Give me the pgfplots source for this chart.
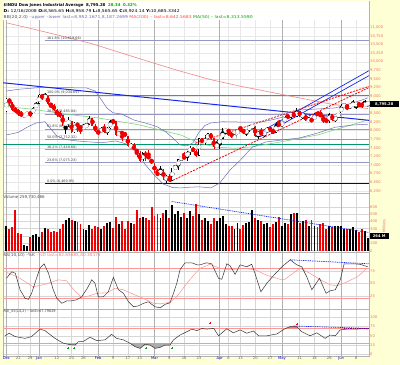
\documentclass[border=0pt]{standalone}
\usepackage{fontspec}
\setmainfont{DejaVu Sans}
\usepackage{pgfplots}
\usepackage{pgfplotstable}
\pgfplotsset{compat=1.18}

\definecolor{bgy}{RGB}{255,255,214}
\definecolor{lab}{RGB}{238,115,105}
\definecolor{ma200}{RGB}{240,135,135}
\definecolor{ma50}{RGB}{125,215,125}
\definecolor{bb}{RGB}{110,110,185}
\definecolor{fib}{RGB}{150,150,195}
\definecolor{tlblue}{RGB}{20,40,235}
\definecolor{navy}{RGB}{0,0,150}
\definecolor{teal2}{RGB}{0,150,110}
\definecolor{cred}{RGB}{240,0,0}
\definecolor{pinkD}{RGB}{255,150,150}
\definecolor{hdrgreen}{RGB}{0,170,0}

\newcommand{\fs}{\fontsize{3.7}{4.2}\selectfont}
\newcommand{\hd}{\fontsize{4}{4.4}\selectfont}

\pgfplotstableread{
i o h l c v
1 8565.65 8958.79 8540 8924.14 330
2 8924 8957 8730 8824 300
3 8824 8830 8570 8604 320
4 8604 8700 8520 8579 560
5 8579 8620 8430 8519 240
6 8519 8560 8400 8419 230
7 8419 8490 8400 8468 80
8 8468 8530 8440 8515 60
9 8515 8560 8400 8483 190
10 8483 8690 8480 8668 220
11 8668 8840 8660 8776 230
12 8776 9065 8760 9035 190
13 9035 9070 8900 8953 260
14 8953 9088 8940 9015 310
15 9015 9015 8740 8769 290
16 8769 8800 8650 8742 260
17 8742 8770 8570 8599 270
18 8599 8620 8400 8474 260
19 8474 8560 8380 8448 300
20 8448 8450 8140 8200 360
21 8200 8260 7910 8212 420
22 8212 8390 8110 8281 440
23 8281 8290 7930 7949 420
24 7949 8250 7920 8228 400
25 8228 8230 7950 8123 390
26 8123 8130 7910 8077 370
27 8077 8200 8040 8116 300
28 8116 8230 8090 8175 280
29 8175 8420 8170 8375 350
30 8375 8375 8130 8149 300
31 8149 8190 7970 8001 330
32 8001 8020 7870 7936 320
33 7936 8110 7920 8078 300
34 8078 8200 7940 7957 330
35 7957 8110 7860 8063 380
36 8063 8320 8050 8280 390
37 8280 8330 8180 8270 310
38 8270 8270 7850 7888 460
39 7888 7990 7850 7939 360
40 7939 7950 7710 7932 400
41 7932 7960 7830 7850 300
42 7850 7850 7530 7553 400
43 7553 7630 7490 7555 380
44 7555 7640 7450 7466 370
45 7466 7470 7250 7366 560
46 7366 7400 7100 7115 450
47 7115 7380 7110 7351 460
48 7351 7400 7110 7270 440
49 7270 7440 7170 7183 420
50 7183 7190 7020 7063 600
51 7063 7063 6760 6763 480
52 6763 6900 6700 6726 500
53 6726 6970 6720 6876 440
54 6876 6880 6570 6594 520
55 6594 6720 6470 6627 560
56 6627 6740 6520 6547 440
57 6547 6930 6547 6926 620
58 6926 7010 6880 6930 500
59 6930 7180 6860 7170 540
60 7170 7250 7120 7224 460
61 7224 7390 7200 7216 520
62 7216 7400 7130 7395 450
63 7395 7560 7300 7486 540
64 7486 7530 7370 7400 480
65 7400 7430 7250 7279 640
66 7279 7780 7279 7776 500
67 7776 7776 7640 7660 420
68 7660 7860 7580 7750 450
69 7750 7940 7750 7925 400
70 7925 7925 7740 7776 360
71 7776 7776 7470 7522 440
72 7522 7730 7522 7609 400
73 7609 7770 7480 7761 440
74 7761 8080 7761 7978 470
75 7978 8020 7890 8018 360
76 8018 8018 7850 7975 340
77 7975 7975 7780 7789 340
78 7789 7880 7780 7837 300
79 7837 8090 7837 8083 380
80 8083 8090 7970 8058 300
81 8058 8060 7900 7920 350
82 7920 8040 7840 8029 380
83 8029 8170 7950 8125 390
84 8125 8170 8040 8131 550
85 8131 8131 7820 7841 450
86 7841 7980 7750 7969 420
87 7969 8070 7870 7886 410
88 7886 7980 7810 7957 370
89 7957 8120 7930 8076 380
90 8076 8080 7980 8025 320
91 8025 8040 7900 7945 360
92 7945 8260 7945 8185 390
93 8185 8320 8150 8168 460
94 8168 8230 8130 8212 330
95 8212 8430 8210 8426 380
96 8426 8430 8370 8410 370
97 8410 8530 8340 8512 500
98 8512 8580 8380 8409 510
99 8409 8650 8400 8575 520
100 8575 8575 8400 8418 380
101 8418 8510 8350 8469 400
102 8469 8470 8270 8284 420
103 8284 8390 8270 8331 340
104 8331 8380 8250 8268 420
105 8268 8520 8268 8504 330
106 8504 8540 8440 8474 320
107 8474 8580 8400 8422 370
108 8422 8422 8210 8293 380
109 8293 8370 8260 8277 290
110 8277 8500 8230 8473 330
111 8473 8480 8290 8300 320
112 8300 8420 8240 8404 330
113 8404 8510 8370 8500 330
114 8500 8760 8500 8721 340
115 8721 8780 8690 8740 300
116 8740 8740 8600 8675 300
117 8675 8760 8640 8750 290
118 8750 8880 8700 8763 320
119 8763 8800 8620 8764 280
120 8764 8820 8700 8763 250
121 8763 8830 8650 8739 290
122 8739 8880 8730 8771 270
123 8771 8810 8720 8795 170
}\ohlc

\pgfplotsset{
 panel/.style={
  scale only axis, width=366pt, xmin=-0.16, xmax=123.4,
  axis background/.style={fill=white},
  axis line style={gray!60, line width=0.4pt},
  major tick length=0pt,
  xtick={5,9,18,23,27,37,42,46,56,61,66,76,80,85,90,100,105,110,119},
  extra x ticks={1,12,32,51,73,94,114},
  xmajorgrids=true, ymajorgrids=true,
  major grid style={gray!32, line width=0.4pt},
  extra x tick style={major grid style={gray!62, line width=0.45pt}},
  xticklabels={}, extra x tick labels={},
  yticklabel pos=right,
  yticklabel style={font=\fs, text=lab, inner sep=1pt},
  /pgf/number format/assume math mode=true,
  /pgf/number format/1000 sep={,},
  scaled y ticks=false,
 },
 up/.style={restrict expr to domain={\thisrow{c}-\thisrow{o}}{0:100000}},
 dn/.style={restrict expr to domain={\thisrow{c}-\thisrow{o}}{-100000:-0.0001}},
}

\begin{document}
\begin{tikzpicture}[x=1pt,y=1pt]
\fill[bgy] (0,0) rectangle (400,365);
\useasboundingbox (0,0) rectangle (400,365);

% ---------------- main price panel ----------------
\begin{axis}[panel, at={(3pt,172pt)}, anchor=south west, height=192pt,
  ymin=6191, ymax=11763, ytick={6250,6500,...,11000},
  yticklabels={{6,250},{6,500},{6,750},{7,000},{7,250},{7,500},{7,750},{8,000},{8,250},{8,500},{},{9,000},{9,250},{9,500},{9,750},{10,000},{10,250},{10,500},{10,750},{11,000}},
  major grid style={gray!18, line width=0.4pt},
  extra x tick style={major grid style={gray!62, line width=0.45pt}}]
% Fibonacci lines
\addplot[fib, line width=0.5pt] coordinates {(14,10619.66) (123.4,10619.66)};
\addplot[fib!80!black, line width=0.8pt] coordinates {(14,9034.69) (123.4,9034.69)};
\addplot[fib, line width=0.5pt] coordinates {(14,8485.84) (123.4,8485.84)};
\addplot[fib, line width=0.5pt] coordinates {(14,8054.96) (123.4,8054.96)};
\addplot[fib, line width=0.5pt] coordinates {(14,7752.32) (123.4,7752.32)};
\addplot[fib, line width=0.5pt] coordinates {(14,7449.68) (123.4,7449.68)};
\addplot[fib, line width=0.5pt] coordinates {(14,7075.23) (123.4,7075.23)};
\addplot[navy, line width=0.9pt] coordinates {(14,6469.95) (123.4,6469.95)};
\addplot[teal2, line width=0.8pt] coordinates {(-0.16,7610) (123.4,7610)};
% moving averages
\addplot[ma200, line width=0.6pt] coordinates {(1,11130) (10,10950) (20,10740) (30,10520) (40,10250) (50,9980) (60,9720) (70,9480) (80,9290) (90,9120) (100,8950) (110,8780) (117,8700) (123,8642)};
\addplot[ma50, line width=0.6pt] coordinates {(1,8700) (10,8620) (21,8480) (32,8370) (46,8165) (60,7870) (66,7640) (72,7520) (78,7490) (84,7530) (94,7680) (106,7875) (114,8080) (123,8310)};
% Bollinger bands
\addplot[bb, line width=0.5pt] coordinates {(1,9150) (5,9200) (12,9250) (20,9250) (28,9240) (31,9150) (33,8900) (35,8650) (37,8520) (40,8480) (44,8310) (48,8220) (52,8110) (55,7950) (57,7800) (59.6,7584) (62,7560) (64,7650) (66,7950) (68,8150) (70,8223) (74,8260) (78,8252) (82,8250) (87,8252) (91,8320) (94.4,8397) (97,8500) (100,8600) (104,8620) (108,8640) (112,8660) (116,8760) (120,8860) (123,8952)};
\addplot[bb, line width=0.5pt] coordinates {(1,7875) (5,7950) (8,8100) (11,8223) (14,8260) (16,8050) (18,7850) (21,7740) (25,7700) (28,7680) (33,7650) (38,7700) (42,7600) (45,7350) (48,7000) (51,6700) (54,6450) (57,6350) (60,6340) (63,6360) (66,6370) (70,6340) (73,6480) (76.5,6860) (80,7150) (84,7520) (88.5,7670) (94,7730) (100,7790) (106,7930) (112,8100) (118,8165) (123,8187)};
% candles: wicks
\addplot[black, only marks, mark=none, up, error bars/.cd, y dir=both, y explicit, error mark=none, error bar style={line width=0.45pt, black}]
  table[x=i, y expr={(\thisrow{h}+\thisrow{l})/2}, y error expr={(\thisrow{h}-\thisrow{l})/2}] {\ohlc};
\addplot[cred, only marks, mark=none, dn, error bars/.cd, y dir=both, y explicit, error mark=none, error bar style={line width=0.45pt, cred}]
  table[x=i, y expr={(\thisrow{h}+\thisrow{l})/2}, y error expr={(\thisrow{h}-\thisrow{l})/2}] {\ohlc};
% candles: bodies
\addplot[black, only marks, mark=none, up, error bars/.cd, y dir=both, y explicit, error mark=none, error bar style={line width=1.8pt, black}]
  table[x=i, y expr={(\thisrow{o}+\thisrow{c})/2}, y error expr={max(abs(\thisrow{c}-\thisrow{o})/2,10)}] {\ohlc};
\addplot[white, only marks, mark=none, up, error bars/.cd, y dir=both, y explicit, error mark=none, error bar style={line width=0.8pt, white}]
  table[x=i, y expr={(\thisrow{o}+\thisrow{c})/2}, y error expr={max(abs(\thisrow{c}-\thisrow{o})/2-14,0)}] {\ohlc};
\addplot[cred, only marks, mark=none, dn, error bars/.cd, y dir=both, y explicit, error mark=none, error bar style={line width=1.8pt, cred}]
  table[x=i, y expr={(\thisrow{o}+\thisrow{c})/2}, y error expr={max(abs(\thisrow{c}-\thisrow{o})/2,10)}] {\ohlc};
% trend lines
\addplot[tlblue, line width=1pt] coordinates {(-0.16,9390) (123.4,8300)};
\addplot[tlblue, line width=0.7pt] coordinates {(85,7875) (123.8,9761)};
\addplot[tlblue, line width=0.7pt] coordinates {(86.6,7825) (123.8,9616)};
\addplot[cred, line width=0.8pt, dash pattern=on 2pt off 1.2pt] coordinates {(56.2,6519) (123.8,9268)};
\addplot[cred, line width=0.8pt, dash pattern=on 2pt off 1.2pt] coordinates {(64.7,7635) (123.8,9297)};
% fib labels
\begin{scope}[every node/.style={anchor=south west, inner sep=0.4pt, font=\fontsize{3.4}{3.8}\selectfont, text=gray!50!black}]
\node at (axis cs:14.5,10619.66) {161.8\% (10,619.66)};
\node at (axis cs:14.5,9034.69) {100.0\% (9,034.69)};
\node at (axis cs:14.5,8485.84) {78.6\% (8,485.84)};
\node at (axis cs:14.5,8054.96) {61.8\% (8,054.96)};
\node at (axis cs:14.5,7752.32) {50.0\% (7,752.32)};
\node at (axis cs:14.5,7449.68) {38.2\% (7,449.68)};
\node at (axis cs:14.5,7075.23) {23.6\% (7,075.23)};
\node at (axis cs:14.5,6469.95) {0.0\% (6,469.95)};
\end{scope}
\end{axis}

% cover grid in header zone
\fill[white] (3.4,345) rectangle (368.6,363.6);

% ---------------- volume panel ----------------
\begin{axis}[panel, at={(3pt,113pt)}, anchor=south west, height=59pt,
  ymin=-18, ymax=787, ytick={0,100,...,600}, yticklabels={0,100,{},300,400,500,600}]
\addplot[black, ycomb, line width=1.9pt, mark=none, up] table[x=i, y=v] {\ohlc};
\addplot[cred, ycomb, line width=1.9pt, mark=none, dn] table[x=i, y=v] {\ohlc};
\addplot[tlblue, line width=0.7pt, dash pattern=on 1pt off 0.8pt] coordinates {(56.8,671) (123.4,248)};
\end{axis}

% ---------------- stochastic panel ----------------
\begin{axis}[panel, at={(3pt,56pt)}, anchor=south west, height=57pt,
  ymin=-1.4, ymax=112.6, ytick={25,50,75}, major grid style={gray!32, line width=0.4pt}]
\addplot[pinkD, line width=0.5pt] coordinates {(-0.16,80) (123.4,80)};
\addplot[pinkD, line width=0.5pt] coordinates {(-0.16,20) (123.4,20)};
\addplot[pinkD, line width=0.55pt] coordinates {(1,72) (5,62) (10,43) (14,48) (18.5,57) (21.3,55) (24,35) (26.4,22) (29,25) (31.5,30) (34.9,31) (37.7,40) (40.5,37) (43.9,28) (47.2,20) (50.6,10) (52.9,9) (56.2,12) (58.5,23) (61.9,50) (65.2,73) (66.4,80) (69.7,88) (73,80) (76.5,77) (81,80) (85,77) (88.9,66) (93.4,58) (95,58) (97.8,70) (100,80) (103.5,70) (107,57) (110.3,47) (112.6,45) (116,53) (119.5,63) (122.7,80)};
\addplot[black!80, line width=0.5pt] coordinates {(1,60) (2.8,73) (4,70) (5.6,37) (7.3,20) (8.4,18) (9.5,30) (10.6,50) (12.3,80) (13.7,89) (15.2,70) (16.8,37) (18,20) (19.7,10) (21.4,15) (23,15) (24.7,17) (26.4,23) (28.3,40) (29.8,57) (30.9,50) (32,23) (33.7,23) (35.4,33) (37.1,62) (38.8,37) (40.5,30) (42.2,13) (43.9,3) (45.6,5) (47.3,10) (48.9,13) (51.2,3) (52.9,1) (54.6,8) (56.2,11) (57.4,30) (58.5,50) (59.6,77) (61.3,91) (63.6,91) (65.3,87) (66.4,87) (68.6,91) (70.3,89) (72.6,60) (73.7,58) (75.4,89) (76.5,85) (78.2,68) (79.9,87) (82.1,83) (83.8,88) (84.9,70) (86.9,33) (88.9,50) (91.1,65) (94,83) (96.8,97) (99,87) (100.7,83) (102.4,63) (104.1,37) (106.7,60) (108.9,30) (110.3,35) (112,37) (113.7,57) (115,89) (118.1,89) (120.4,88) (123,83)};
\addplot[tlblue, line width=0.7pt, dash pattern=on 1pt off 0.8pt] coordinates {(96.8,97) (123.4,89)};
\end{axis}

% ---------------- RSI panel ----------------
\begin{axis}[panel, at={(3pt,9pt)}, anchor=south west, height=47pt,
  ymin=-4.6, ymax=122.4, ytick={0,25,50,75,100}, major grid style={gray!32, line width=0.4pt},
  xticklabels={22,29,12,20,26,9,17,23,9,16,23,6,13,20,27,11,18,26,8},
  extra x tick labels={Dec,Jan,Feb,Mar,Apr,May,Jun},
  xticklabel style={font=\fs, text=gray!75!black, inner sep=0.8pt},
  extra x tick style={major grid style={gray!62, line width=0.45pt}, xticklabel style={text=blue!85!black}}]
\addplot[pinkD, line width=0.5pt] coordinates {(-0.16,70) (123.4,70)};
\addplot[pinkD, line width=0.5pt] coordinates {(-0.16,30) (123.4,30)};
\addplot[fill=gray!65, draw=none] coordinates {(20.2,30) (22.5,26) (24.2,25) (24.8,30)};
\addplot[fill=gray!65, draw=none] coordinates {(42.7,30) (44.4,21) (46.1,16) (47.8,27) (49.5,25) (51.2,16) (52.9,19) (54.6,25) (56.2,25) (56.7,30)};
\addplot[fill=red!55, draw=none] coordinates {(95.3,70) (96.8,75) (99,75) (99.6,70)};
\addplot[black!80, line width=0.5pt] coordinates {(0.5,50) (1.9,57) (3.9,48) (7.3,43) (9.5,48) (12.3,68) (14,64) (17.4,43) (20.2,30) (22.5,26) (24.2,25) (25.3,34) (27,35) (29.2,46) (31.5,37) (34.3,39) (36.5,54) (38.2,43) (40.5,39) (42.7,30) (44.4,21) (46.1,16) (47.8,27) (49.5,25) (51.2,16) (52.9,19) (54.6,25) (56.2,25) (57.4,39) (59.6,52) (61.9,61) (63.6,68) (65.3,64) (67,70) (68.6,68) (71,70) (72.6,50) (75.4,69) (77.6,58) (79.9,66) (82.1,57) (84.4,63) (86.1,50) (88.9,50) (92.3,55) (95,69) (96.8,75) (99,75) (100.7,61) (103.5,50) (105.8,58) (108.6,43) (110.3,52) (112,50) (113.7,66) (115.9,68) (119.3,68) (122,70) (123,68)};
\addplot[tlblue, line width=0.7pt, dash pattern=on 1pt off 0.8pt] coordinates {(97.9,76.5) (123.4,70)};
\addplot[violet, line width=0.7pt, dash pattern=on 1pt off 0.8pt] coordinates {(115,70) (123.4,70)};
\addplot[only marks, mark=+, mark size=0.9pt, green!65!black] coordinates {(21.8,17) (23.8,17) (48.1,17) (57,17)};
\addplot[only marks, mark=+, mark size=0.9pt, red] coordinates {(69.8,84) (99,82)};
\end{axis}

% ---------------- header texts ----------------
\node[anchor=west, inner sep=0, font=\hd\bfseries] at (3.5,360)
  {\resizebox{133pt}{\height}{\$INDU Dow Jones Industrial Average\ \ 8,795.28\ \ \textcolor{hdrgreen}{28.34\ \ 0.32\%}}};
\node[anchor=west, inner sep=0, font=\hd] at (3.5,353.5)
  {\resizebox{176pt}{\height}{\textbf{D:} 12/16/2008 \textbf{O:}8,565.65 \textbf{H:}8,958.79 \textbf{L:}8,565.65 \textbf{C:}8,924.14 \textbf{Y:}10,685.3342}};
\node[anchor=west, inner sep=0, font=\hd] at (3.5,347.5)
  {\resizebox{249pt}{\height}{\textcolor{gray!60!black}{BB(20,2.0)} \textcolor{bb}{--upper --lower last=8,952.1671,8,187.2699} \textcolor{red!70}{MA(200) -- last=8,642.5683} \textcolor{green!65!black}{MA(50) -- last=8,313.5590}}};
\node[anchor=west, inner sep=0, font=\hd, text=gray!60!black] at (3.5,168) {\resizebox{41pt}{\height}{Volume 259,730,486}};
\node[anchor=west, inner sep=0, font=\hd, text=gray!60!black] at (3.5,110) {\resizebox{97pt}{\height}{SS(10,10) --\%K \textcolor{pinkD!80!red}{--\%D last=82.65685,80.38375}}};
\node[anchor=west, inner sep=0, font=\hd, text=gray!60!black] at (3.5,54) {\resizebox{52pt}{\height}{RSI\_SS(14,2) -- last=67.79829}};

% right-side boxes
\node[anchor=west, fill=black, text=white, font=\fs\bfseries, inner sep=0.6pt, minimum width=29pt, minimum height=5.6pt] at (369.5,261) {8,795.28};
\node[anchor=west, fill=black, text=white, font=\fs\bfseries, inner sep=0.6pt, minimum width=19pt, minimum height=5.6pt] at (369.5,129) {264 M};
\node[rotate=90, font=\fs, text=lab, inner sep=0] at (384,139) {Millions};
\end{tikzpicture}
\end{document}
